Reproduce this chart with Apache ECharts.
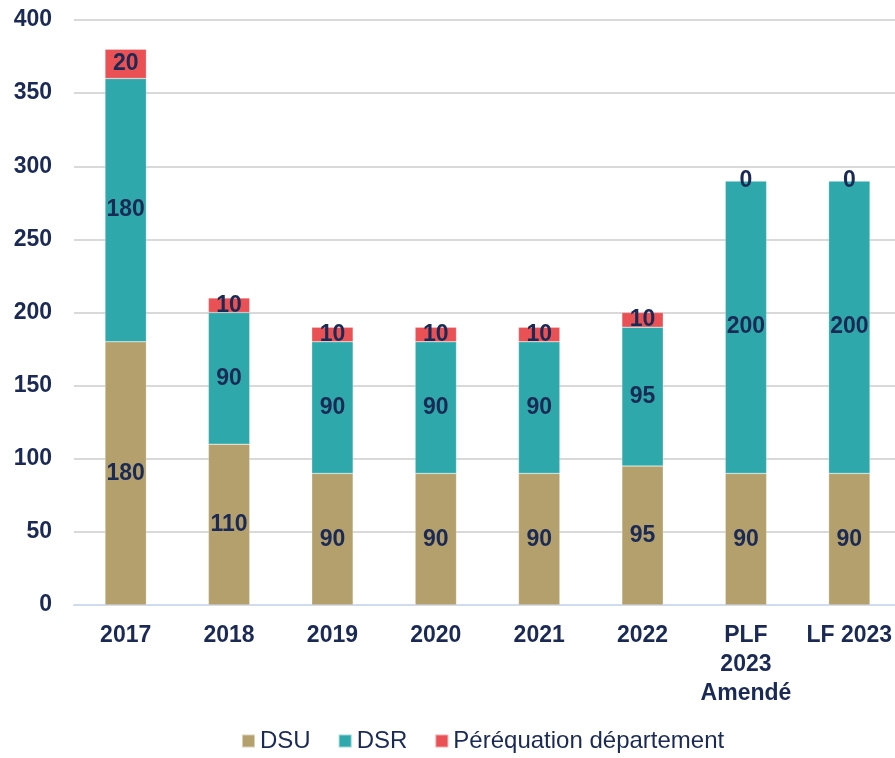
<!DOCTYPE html>
<html>
<head>
<meta charset="utf-8">
<script src="https://cdn.jsdelivr.net/npm/echarts@6/dist/echarts.min.js"></script>
<style>
  html, body { margin: 0; padding: 0; background: #fff; }
  #chart { width: 895px; height: 758px; }
</style>
</head>
<body>
<div id="chart"></div>
<script>
// données
var categories = ['2017', '2018', '2019', '2020', '2021', '2022', 'PLF\n2023\nAmendé', 'LF 2023']
var dsu = [180, 110, 90, 90, 90, 95, 90, 90]
var dsr = [180, 90, 90, 90, 90, 95, 200, 200]
var perequation = [20, 10, 10, 10, 10, 10, 0, 0]

var navy = '#1B2A55'
var font = 'Liberation Sans, Arial, sans-serif'

function makeSeries(name, data, color) {
  return {
    name: name,
    type: 'bar',
    stack: 'total',
    data: data,
    barCategoryGap: '60%',
    itemStyle: { color: color, borderColor: 'rgba(255,255,255,0.5)', borderWidth: 0.5 },
    label: {
      show: true,
      position: 'inside',
      color: navy,
      fontFamily: font,
      fontWeight: 'bold',
      fontSize: 23
    },
    emphasis: { disabled: true }
  }
}

var chart = echarts.init(document.getElementById('chart'))
chart.setOption({
  animation: false,
  textStyle: { fontFamily: font },
  grid: { left: 74, right: -6, top: 20, bottom: 153, outerBoundsMode: 'none', containLabel: false },
  legend: {
    bottom: 0,
    left: 236,
    itemWidth: 13,
    itemHeight: 13,
    itemGap: 27,
    icon: 'rect',
    textStyle: { color: navy, fontSize: 24, fontFamily: font },
    data: ['DSU', 'DSR', 'Péréquation département']
  },
  xAxis: {
    type: 'category',
    data: categories,
    axisTick: { show: false },
    axisLine: { lineStyle: { color: '#D0DAF0', width: 2 } },
    axisLabel: {
      color: navy,
      fontWeight: 'bold',
      fontSize: 23,
      margin: 16,
      lineHeight: 29,
      interval: 0
    }
  },
  yAxis: {
    type: 'value',
    min: 0,
    max: 400,
    interval: 50,
    axisLine: { show: false },
    axisTick: { show: false },
    splitLine: { lineStyle: { color: '#D9D9D9', width: 2 } },
    axisLabel: {
      color: navy,
      fontWeight: 'bold',
      fontSize: 23,
      margin: 22
    }
  },
  series: [
    makeSeries('DSU', dsu, '#B3A06D'),
    makeSeries('DSR', dsr, '#2FA8AC'),
    makeSeries('Péréquation département', perequation, '#EA5155')
  ]
})
</script>
</body>
</html>
